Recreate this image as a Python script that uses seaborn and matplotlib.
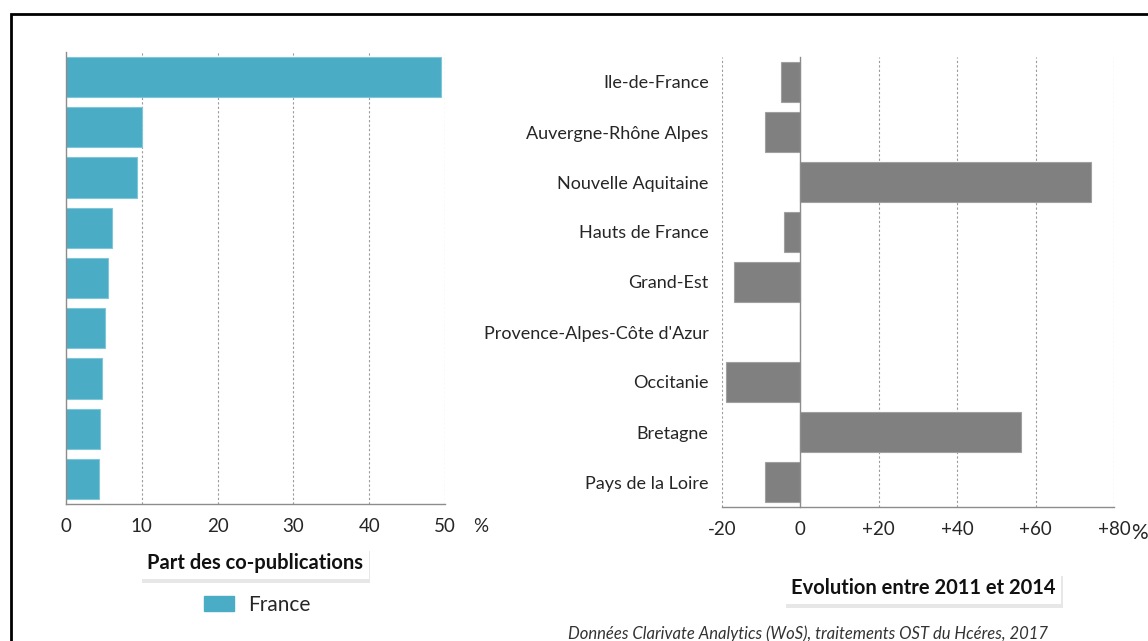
import matplotlib
matplotlib.use("Agg")
import matplotlib.pyplot as plt
import matplotlib.patheffects as pe
from matplotlib.patches import Patch, Rectangle
from matplotlib.ticker import FixedLocator
import seaborn as sns
import pandas as pd

# ---- data -------------------------------------------------------------------
regions = [
    "Ile-de-France",
    "Auvergne-Rhône Alpes",
    "Nouvelle Aquitaine",
    "Hauts de France",
    "Grand-Est",
    "Provence-Alpes-Côte d'Azur",
    "Occitanie",
    "Bretagne",
    "Pays de la Loire",
]
share_pct = [49.5, 10.0, 9.4, 6.1, 5.5, 5.1, 4.7, 4.5, 4.3]
evolution_pct = [-4.9, -9.0, 74.1, -4.1, -16.9, 0.0, -19.0, 56.2, -9.0]

left_ticks = [0, 10, 20, 30, 40, 50]
right_ticks = [-20, 0, 20, 40, 60, 80]
right_tick_labels = ["-20", "0", "+20", "+40", "+60", "+80"]

data = pd.DataFrame({"region": regions, "share": share_pct, "evol": evolution_pct})

blue = "#4BACC6"
grey = "#808080"
axis_grey = "#8c8c8c"
text_col = "#262626"

sns.set_style("white")
plt.rcParams["font.family"] = ["Lato", "DejaVu Sans"]

fig = plt.figure(figsize=(11.48, 6.41), dpi=100)
ax1 = fig.add_axes([66 / 1148, 1 - 504 / 641, 379 / 1148, 452 / 641])
ax2 = fig.add_axes([722 / 1148, 1 - 507 / 641, 392 / 1148, 450 / 641])

# ---- left panel: share of co-publications ------------------------------------
sns.barplot(data=data, x="share", y="region", ax=ax1, color=blue, width=0.8,
            saturation=1, edgecolor="#7fc6d8", linewidth=0.8)
ax1.set_xlim(0, 50)
ax1.set_xticks(left_ticks)
ax1.set_xticklabels([str(t) for t in left_ticks])
ax1.set_yticks(range(len(regions)))
ax1.set_yticklabels([])
ax1.tick_params(axis="y", which="major", length=0)

# ---- right panel: evolution --------------------------------------------------
sns.barplot(data=data, x="evol", y="region", ax=ax2, color=grey, width=0.8,
            saturation=1, edgecolor="#a0a0a0", linewidth=0.8)
ax2.set_xlim(-20, 80)
ax2.set_xticks(right_ticks)
ax2.set_xticklabels(right_tick_labels)
ax2.spines["left"].set_position(("data", 0))
ax2.tick_params(axis="y", which="major", length=0, pad=66, labelsize=13,
                labelcolor=text_col)

for ax in (ax1, ax2):
    ax.set_ylim(len(regions) - 0.5, -0.5)
    ax.set_xlabel("")
    ax.set_ylabel("")
    ax.yaxis.set_minor_locator(FixedLocator([i - 0.5 for i in range(len(regions) + 1)]))
    ax.tick_params(axis="y", which="minor", length=6, direction="in", color=axis_grey, width=1)
    ax.tick_params(axis="x", which="major", length=10, direction="inout", color=axis_grey,
                   width=1, labelsize=13.5, labelcolor=text_col, pad=5)
    for s in ("top", "right"):
        ax.spines[s].set_visible(False)
    ax.spines["left"].set_color(axis_grey)
    ax.spines["bottom"].set_color(axis_grey)
    ax.spines["left"].set_linewidth(1)
    ax.spines["bottom"].set_linewidth(1)
    ax.xaxis.grid(True, linestyle=(0, (2, 2)), color="#9a9a9a", linewidth=0.8)
    ax.yaxis.grid(False)
    ax.set_axisbelow(True)

# hide grid lines that sit on the spines
ax1.get_xgridlines()[0].set_visible(False)
ax2.get_xgridlines()[1].set_visible(False)

# percent signs after the axes
fig.text(481 / 1148, 1 - 527 / 641, "%", fontsize=13.5, ha="center", va="center", color=text_col)
fig.text(1139 / 1148, 1 - 533 / 641, "%", fontsize=15, ha="center", va="center", color=text_col)

# ---- panel titles in boxes with a soft shadow ---------------------------------
shadow = [pe.withSimplePatchShadow(offset=(1, -3), shadow_rgbFace="#d0d0d0", alpha=0.5)]
for x, y, size, txt in [(255, 563, 14.5, "Part des co-publications"),
                        (923, 588, 14.5, "Evolution entre 2011 et 2014")]:
    t = fig.text(x / 1148, 1 - y / 641, txt, fontsize=size, fontweight="bold", ha="center",
                 va="center", color="#111111",
                 bbox=dict(boxstyle="square,pad=0.3", fc="white", ec="none"))
    t.get_bbox_patch().set_path_effects(shadow)

# ---- legend -----------------------------------------------------------------
fig.legend(handles=[Patch(facecolor=blue, edgecolor=blue, label="France")],
           loc="center left", bbox_to_anchor=(185 / 1148, 1 - 605 / 641), frameon=False,
           fontsize=15, handlelength=1.45, handleheight=0.75, handletextpad=0.7)

# ---- source -----------------------------------------------------------------
fig.text(808 / 1148, 1 - 634 / 641, "Données Clarivate Analytics (WoS), traitements OST du Hcéres, 2017",
         fontsize=12, style="italic", ha="center", va="center", color="#333333")

# ---- outer frame --------------------------------------------------------------
fig.patches.append(Rectangle((11 / 1148, -0.05), 1.1, 1 - 14 / 641 + 0.05, transform=fig.transFigure,
                             fill=False, edgecolor="black", linewidth=2, zorder=0))

plt.savefig("out.png", dpi=100)
plt.close()
